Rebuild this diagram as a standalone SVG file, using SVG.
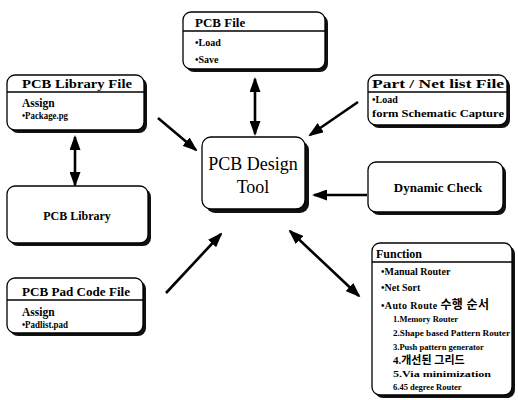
<svg xmlns="http://www.w3.org/2000/svg" width="518" height="400" viewBox="0 0 518 400">
  <style>
    .box { fill: #ffffff; stroke: #000000; stroke-width: 1.3; }
    .shadow { fill: #111111; stroke: none; }
    .hdr { stroke: #000000; stroke-width: 1.5; }
    .t { font-family: "Liberation Serif", "Noto Sans CJK KR", serif; font-weight: bold; fill: #000000; }
    .title { font-size: 13px; }
    .item { font-size: 10px; }
    .sub { font-size: 8.5px; }
    .big { font-family: "Liberation Serif", serif; font-size: 18px; fill: #000000; }
    .arrow { stroke: #000000; stroke-width: 2.6; fill: none; marker-end: url(#head); }
    .darrow { stroke: #000000; stroke-width: 2.6; fill: none; marker-start: url(#head); marker-end: url(#head); }
  </style>
  <defs>
    <marker id="head" markerUnits="userSpaceOnUse" markerWidth="15" markerHeight="11" refX="13" refY="5.5" orient="auto-start-reverse">
      <path d="M0,0 L15,5.5 L0,11 z" fill="#000000"/>
    </marker>
  </defs>
  <rect width="518" height="400" fill="#ffffff"/>

  <g id="connectors">
    <line class="darrow" x1="255" y1="79" x2="255" y2="134"/>
    <line class="darrow" x1="75" y1="137" x2="75" y2="185"/>
    <line class="arrow" x1="158" y1="118" x2="196" y2="150"/>
    <line class="arrow" x1="358" y1="102" x2="310" y2="135"/>
    <line class="arrow" x1="367" y1="195" x2="314" y2="195"/>
    <line class="arrow" x1="166" y1="293" x2="221" y2="234"/>
    <line class="darrow" x1="290" y1="231" x2="359" y2="296"/>
  </g>

  <g id="pcb-file">
    <rect class="shadow" x="186" y="15" width="142" height="57" rx="8"/>
    <rect class="box" x="183" y="12" width="142" height="57" rx="8"/>
    <line class="hdr" x1="183" y1="31" x2="325" y2="31"/>
    <text class="t title" x="195" y="27">PCB File</text>
    <text class="t item" x="195" y="46">•Load</text>
    <text class="t item" x="195" y="63">•Save</text>
  </g>

  <g id="pcb-library-file">
    <rect class="shadow" x="10" y="78" width="137" height="55" rx="8"/>
    <rect class="box" x="7" y="75" width="137" height="55" rx="8"/>
    <line class="hdr" x1="7" y1="92" x2="144" y2="92"/>
    <text class="t title" x="22" y="88" textLength="110" lengthAdjust="spacingAndGlyphs">PCB Library File</text>
    <text class="t" x="22" y="107" font-size="11.5">Assign</text>
    <text class="t item" x="22" y="119" font-size="9.5" textLength="46" lengthAdjust="spacingAndGlyphs">•Package.pg</text>
  </g>

  <g id="pcb-library">
    <rect class="shadow" x="10" y="189" width="141" height="57" rx="8"/>
    <rect class="box" x="7" y="186" width="141" height="57" rx="8"/>
    <text class="t" x="77" y="220" font-size="12" text-anchor="middle">PCB Library</text>
  </g>

  <g id="pcb-design-tool">
    <rect class="shadow" x="206" y="141" width="103" height="72" rx="9"/>
    <rect class="box" x="202" y="137" width="103" height="72" rx="9"/>
    <text class="big" x="253" y="170" text-anchor="middle">PCB Design</text>
    <text class="big" x="253" y="193" text-anchor="middle">Tool</text>
  </g>

  <g id="part-net-list-file">
    <rect class="shadow" x="371" y="78" width="139" height="50" rx="8"/>
    <rect class="box" x="368" y="75" width="139" height="50" rx="8"/>
    <line class="hdr" x1="368" y1="92" x2="507" y2="92"/>
    <text class="t title" x="372" y="88" textLength="132" lengthAdjust="spacingAndGlyphs">Part / Net list File</text>
    <text class="t item" x="372" y="103">•Load</text>
    <text class="t item" x="372" y="117" textLength="132" lengthAdjust="spacingAndGlyphs">form Schematic Capture</text>
  </g>

  <g id="dynamic-check">
    <rect class="shadow" x="371" y="165" width="135" height="50" rx="8"/>
    <rect class="box" x="368" y="162" width="135" height="50" rx="8"/>
    <text class="t" x="438" y="192" font-size="13" text-anchor="middle">Dynamic Check</text>
  </g>

  <g id="pcb-pad-code-file">
    <rect class="shadow" x="10" y="281" width="136" height="55" rx="8"/>
    <rect class="box" x="7" y="278" width="136" height="55" rx="8"/>
    <line class="hdr" x1="7" y1="300" x2="143" y2="300"/>
    <text class="t title" x="22" y="296" textLength="108" lengthAdjust="spacingAndGlyphs">PCB Pad Code File</text>
    <text class="t" x="22" y="316" font-size="11.5">Assign</text>
    <text class="t item" x="22" y="328" font-size="9.5" textLength="46" lengthAdjust="spacingAndGlyphs">•Padlist.pad</text>
  </g>

  <g id="function">
    <rect class="shadow" x="375" y="246" width="140" height="152" rx="8"/>
    <rect class="box" x="372" y="243" width="140" height="152" rx="8"/>
    <line class="hdr" x1="372" y1="262" x2="512" y2="262"/>
    <text class="t" x="376" y="258" font-size="12">Function</text>
    <text class="t item" x="381" y="275">•Manual Router</text>
    <text class="t item" x="381" y="291">•Net Sort</text>
    <text class="t item" x="381" y="309" textLength="108" lengthAdjust="spacing">•Auto Route <tspan font-size="12">수행 순서</tspan></text>
    <text class="t sub" x="393" y="322">1.Memory Router</text>
    <text class="t sub" x="393" y="336" textLength="117" lengthAdjust="spacingAndGlyphs">2.Shape based Pattern Router</text>
    <text class="t sub" x="393" y="350">3.Push pattern generator</text>
    <text class="t" x="393" y="364" font-size="11">4.개선된 그리드</text>
    <text class="t sub" x="393" y="377" textLength="98" lengthAdjust="spacingAndGlyphs">5.Via minimization</text>
    <text class="t sub" x="393" y="390">6.45 degree Router</text>
  </g>
</svg>
